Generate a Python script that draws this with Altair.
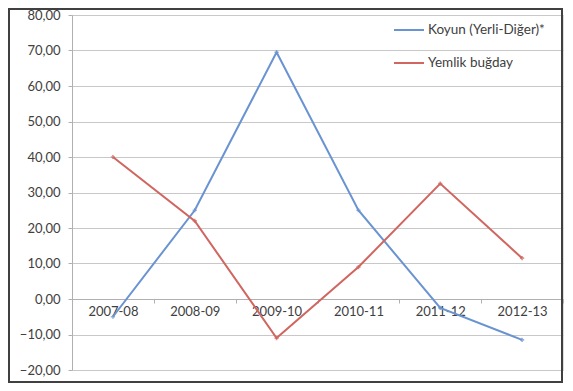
import altair as alt
import pandas as pd

years = ["2007-08", "2008-09", "2009-10", "2010-11", "2011-12", "2012-13"]
koyun = [-5.0, 25.0, 69.5, 25.0, -2.5, -11.5]
bugday = [40.0, 22.0, -11.0, 9.0, 32.5, 11.5]
series = ["Koyun (Yerli-Diğer)*", "Yemlik buğday"]
colors = ["#6a93d2", "#d0665f"]

rows = []
for y, a, b in zip(years, koyun, bugday):
    rows.append({"year": y, "series": series[0], "value": a})
    rows.append({"year": y, "series": series[1], "value": b})
df = pd.DataFrame(rows)

FONT = "Lato"

x = alt.X("year:N", sort=years, bandPosition=0.5,
          scale=alt.Scale(type="band", paddingInner=0, paddingOuter=0),
          axis=alt.Axis(title=None, labelAngle=0, offset=-71, tickBand="extent",
                        domain=True, domainColor="#b0b0b0", ticks=True, tickColor="#b0b0b0",
                        tickSize=4, labelPadding=2, labelFontSize=13, labelFont=FONT,
                        labelColor="#404040", grid=False))
y = alt.Y("value:Q", scale=alt.Scale(domain=[-20, 80], nice=False),
          axis=alt.Axis(title=None, values=list(range(-20, 90, 10)),
                        labelExpr="replace(format(datum.value, '.2f'), '.', ',')",
                        grid=True, gridColor="#c8c8c8", domainColor="#b0b0b0",
                        tickColor="#b0b0b0", tickSize=4, labelPadding=8,
                        labelFontSize=13, labelFont=FONT, labelColor="#404040"))
color = alt.Color("series:N", sort=series,
                  scale=alt.Scale(domain=series, range=colors),
                  legend=alt.Legend(title=None, orient="none", legendX=321, legendY=-1,
                                    symbolType="stroke", symbolSize=900, symbolStrokeWidth=2,
                                    labelFontSize=13.5, labelFont=FONT, labelColor="#404040",
                                    labelOffset=3, rowPadding=10, padding=0))

lines = alt.Chart(df).mark_line(strokeWidth=2).encode(x=x, y=y, color=color)
pts = alt.Chart(df).mark_point(shape="cross", size=18, filled=True).encode(
    x=x, y=y, color=alt.Color("series:N", scale=alt.Scale(domain=series, range=colors), legend=None))

border = alt.Chart(pd.DataFrame({"a": [0]})).mark_rect(
    fill=None, stroke="#404040", strokeWidth=2, clip=False).encode(
    x=alt.value(-63), x2=alt.value(490), y=alt.value(-6), y2=alt.value(367))

chart = alt.layer(lines, pts, border).properties(
    width=491, height=355,
    padding={"left": 64, "top": 7, "right": 2, "bottom": 13},
    autosize=alt.AutoSizeParams(type="none"),
).configure_view(stroke=None).configure(background="white")

chart.save("out.html", embed_options={"renderer": "svg", "actions": False})
